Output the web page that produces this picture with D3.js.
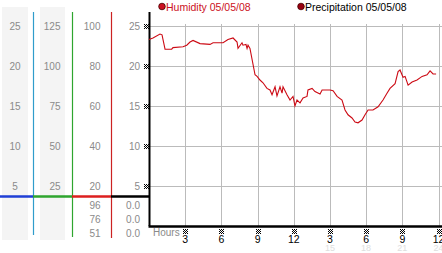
<!DOCTYPE html>
<html><head><meta charset="utf-8">
<script src="https://cdn.jsdelivr.net/npm/d3@7"></script>
<style>html,body{margin:0;padding:0;background:#fff;overflow:hidden}svg{display:block}text{font-family:"Liberation Sans",Arial,sans-serif}</style>
</head><body><svg id="c" width="442" height="253"></svg>
<script>
// ---- data ----
const hours = [0,0.33,0.91,1.08,1.33,1.88,1.99,2.82,3.13,3.4,3.65,4.23,5.06,5.31,6.14,6.55,6.97,7.3,7.38,7.71,7.79,8.04,8.13,8.21,8.37,8.79,8.96,9.2,9.45,9.78,10.03,10.2,10.45,10.61,10.86,11.03,11.11,11.44,11.69,11.94,12.1,12.27,12.52,12.77,13.1,13.18,13.52,13.76,14.18,14.35,15.01,15.26,15.59,16.0,16.25,16.5,16.83,17.08,17.33,17.66,17.91,18.16,18.57,18.99,19.4,19.73,19.98,20.4,20.65,20.81,21.06,21.23,21.48,21.81,22.22,22.64,23.05,23.3,23.55,23.8];
const humidity = [23.3,23.5,24.0,23.9,22.1,22.1,22.3,22.4,22.6,23.0,23.2,22.8,22.7,22.9,22.9,23.3,23.5,23.0,22.2,22.9,22.6,22.7,22.2,22.6,22.2,18.9,18.7,18.25,17.9,17.2,17.0,16.4,17.4,16.25,17.4,16.6,17.4,16.4,15.75,16.2,15.0,15.75,15.4,16.0,16.2,17.0,17.2,16.8,16.5,17.0,17.0,16.9,16.2,15.75,14.5,13.9,13.5,13.0,12.9,13.25,13.9,14.5,14.5,14.9,15.75,16.6,17.2,17.8,19.3,19.5,18.6,18.7,17.6,18.0,18.25,18.7,18.9,19.4,19.0,19.0];
const yTicks = [5,10,15,20,25];
const col1Labels = ["5","10","15","20","25"];
const col2Labels = ["25","50","75","100","125"];
const col3Labels = ["20","40","60","80","100"];
const col4Labels = ["5","10","15","20","25"];
const col3Extra = ["96","76","51"];
const col4Extra = ["0.0","0.0","0.0"];
const xTicks = [3,6,9,12,15,18,21,24];
const xTickLabels = ["3","6","9","12","3","6","9","12"];
const xFaintLabels = ["","","","","15","18","21","24"];
const legendLabels = ["Humidity 05/05/08","Precipitation 05/05/08"];

// ---- drawing ----
const svg = d3.select("#c");
const x = d3.scaleLinear().domain([0,24]).range([149,438.5]);
const y = d3.scaleLinear().domain([0,25]).range([226,26]);

// grey side panels
svg.append("rect").attr("x",2).attr("y",7).attr("width",26).attr("height",233).attr("fill","#f4f4f4");
svg.append("rect").attr("x",40).attr("y",7).attr("width",25).attr("height",233).attr("fill","#f4f4f4");

// grid
const g = svg.append("g");
g.selectAll("line.h").data(yTicks).join("line")
  .attr("x1",149).attr("x2",442).attr("y1",d=>Math.round(y(d))+0.5).attr("y2",d=>Math.round(y(d))+0.5)
  .attr("stroke","#bbbbbb").attr("stroke-width",1);
g.selectAll("line.v").data(xTicks).join("line")
  .attr("x1",d=>Math.round(x(d))+0.5).attr("x2",d=>Math.round(x(d))+0.5)
  .attr("y1",24).attr("y2",226).attr("stroke","#bbbbbb").attr("stroke-width",1);

// coloured side axes
const sideCols = [{x:33.5,c:"#2f9ccb",b:235},{x:72.5,c:"#2ea52e",b:237},{x:111.5,c:"#cc2222",b:238},{x:149.5,c:"#000",b:226}];
sideCols.forEach(s=>{
  svg.append("line").attr("x1",s.x).attr("x2",s.x).attr("y1",12).attr("y2",s.b).attr("stroke",s.c).attr("stroke-width",s.c==="#000"?2:1.2);
});
const bandCols = ["#1f3fd6","#2ea52e","#dd1f1f","#000"];
[0,33,72,111].forEach((x0,i)=>{
  const x1 = [33,72,111,149][i];
  svg.append("line").attr("x1",x0).attr("x2",x1+(i===3?1:0)).attr("y1",196.5).attr("y2",196.5).attr("stroke",bandCols[i]).attr("stroke-width",2.4);
});

// bottom axis
svg.append("line").attr("x1",148.5).attr("x2",442).attr("y1",226.5).attr("y2",226.5).attr("stroke","#000").attr("stroke-width",2.6);

// side labels
const lab = (arr,xp,anchor)=>svg.append("g").selectAll("text").data(arr).join("text")
  .attr("x",xp).attr("y",(d,i)=>y(yTicks[i])+3.8).attr("text-anchor",anchor)
  .attr("font-size",10).attr("fill","#8a8a8a").text(d=>d);
lab(col1Labels,15,"middle");
lab(col2Labels,60.5,"end");
lab(col3Labels,100.5,"end");
lab(col4Labels,140,"end");
const extraY = [205,219,233];
svg.append("g").selectAll("text").data(col3Extra).join("text")
  .attr("x",100.5).attr("y",(d,i)=>extraY[i]+3.8).attr("text-anchor","end").attr("font-size",10).attr("fill","#8a8a8a").text(d=>d);
svg.append("g").selectAll("text").data(col4Extra).join("text")
  .attr("x",140).attr("y",(d,i)=>extraY[i]+3.8).attr("text-anchor","end").attr("font-size",10).attr("fill","#8a8a8a").text(d=>d);

// tick markers (tiny dotted x)
const px = [[0,0],[2,0],[4,0],[1,1],[3,1],[0,2],[2,2],[4,2],[1,3],[3,3],[0,4],[2,4],[4,4]];
function marker(cx,cy){
  const m = svg.append("g").attr("transform",`translate(${Math.round(cx)-2},${Math.round(cy)-2})`);
  m.selectAll("rect").data(px).join("rect").attr("x",d=>d[0]).attr("y",d=>d[1]).attr("width",1).attr("height",1).attr("fill","#000");
}
yTicks.forEach(t=>marker(146,y(t)));
xTicks.forEach(t=>marker(x(t),231));

// x labels
svg.append("text").attr("x",153).attr("y",236).attr("font-size",10).attr("fill","#8a8a8a").text("Hours");
svg.append("g").selectAll("text").data(xTicks).join("text")
  .attr("x",d=>x(d)).attr("y",242.5).attr("text-anchor","middle").attr("font-size",10.5).attr("fill","#000").text((d,i)=>xTickLabels[i]);
svg.append("g").selectAll("text").data(xTicks).join("text")
  .attr("x",d=>x(d)).attr("y",251).attr("text-anchor","middle").attr("font-size",9).attr("fill","#dedede").text((d,i)=>xFaintLabels[i]);

// line
const pts = hours.map((h,i)=>[h,humidity[i]]);
svg.append("path").datum(pts).attr("fill","none").attr("stroke","#cc0a14").attr("stroke-width",1.1)
  .attr("d",d3.line().x(d=>x(d[0])).y(d=>y(d[1])));

// legend
const leg = [{cx:162,tx:166,f:"#cc1122",tc:"#cc1122"},{cx:301,tx:305,f:"#990011",tc:"#000"}];
leg.forEach((l,i)=>{
  svg.append("circle").attr("cx",l.cx).attr("cy",6.5).attr("r",3.3).attr("fill",l.f).attr("stroke","#400").attr("stroke-width",0.8);
  svg.append("text").attr("x",l.tx).attr("y",10.5).attr("font-size",10.5).attr("fill",l.tc).text(legendLabels[i]);
});
</script></body></html>
